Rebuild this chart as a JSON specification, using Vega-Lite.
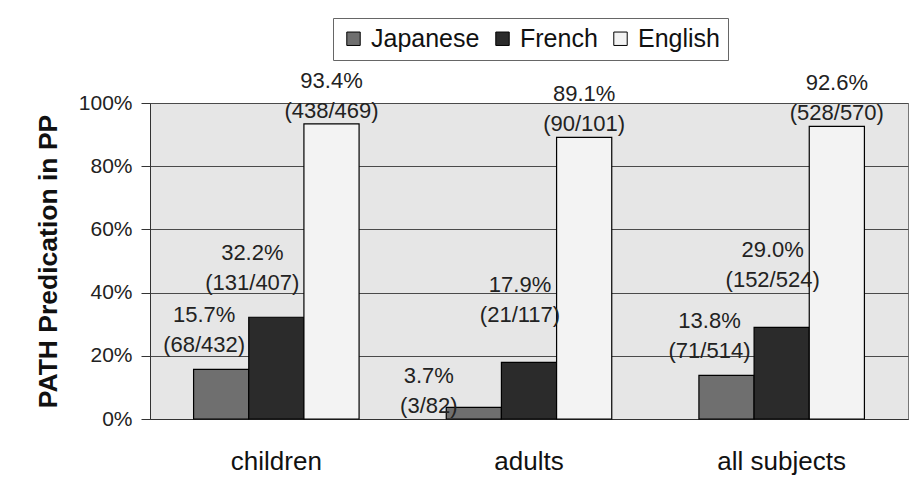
{
  "$schema": "https://vega.github.io/schema/vega-lite/v6.json",
  "width": 758,
  "height": 316,
  "autosize": {"type": "none"},
  "padding": {"left": 150, "top": 103, "right": 6, "bottom": 81},
  "background": "#ffffff",
  "config": {
    "font": "Liberation Sans",
    "view": {"fill": "#e6e6e6", "stroke": "#777777", "strokeWidth": 1}
  },
  "data": {
    "values": [
      {"group": "children", "language": "Japanese", "value": 0.157, "lab": "15.7%\n(68/432)"},
      {"group": "children", "language": "French", "value": 0.322, "lab": "32.2%\n(131/407)"},
      {"group": "children", "language": "English", "value": 0.934, "lab": "93.4%\n(438/469)"},
      {"group": "adults", "language": "Japanese", "value": 0.037, "lab": "3.7%\n(3/82)"},
      {"group": "adults", "language": "French", "value": 0.179, "lab": "17.9%\n(21/117)"},
      {"group": "adults", "language": "English", "value": 0.891, "lab": "89.1%\n(90/101)"},
      {"group": "all subjects", "language": "Japanese", "value": 0.138, "lab": "13.8%\n(71/514)"},
      {"group": "all subjects", "language": "French", "value": 0.29, "lab": "29.0%\n(152/524)"},
      {"group": "all subjects", "language": "English", "value": 0.926, "lab": "92.6%\n(528/570)"}
    ]
  },
  "encoding": {
    "x": {
      "field": "group", "type": "nominal",
      "sort": ["children", "adults", "all subjects"],
      "scale": {"paddingInner": 0, "paddingOuter": 0},
      "axis": {"title": null, "labelAngle": 0, "labelFontSize": 26, "labelPadding": 29, "labelColor": "#111111", "ticks": false, "domainColor": "#333333", "grid": false}
    },
    "xOffset": {
      "field": "language", "type": "nominal",
      "sort": ["Japanese", "French", "English"],
      "scale": {"paddingInner": 0, "paddingOuter": 0.79}
    },
    "y": {
      "field": "value", "type": "quantitative",
      "scale": {"domain": [0, 1], "nice": false},
      "axis": {"format": ".0%", "values": [0, 0.2, 0.4, 0.6, 0.8, 1], "grid": true, "gridColor": "#4a4a4a", "gridWidth": 1, "domainColor": "#333333", "tickColor": "#333333", "tickSize": 9, "labelFontSize": 21, "labelPadding": 9, "labelColor": "#222222", "title": "PATH Predication in PP", "titleFontSize": 26.5, "titleFontWeight": "bold", "titleColor": "#111111", "titlePadding": 16}
    }
  },
  "layer": [
    {
      "mark": {"type": "bar", "stroke": "#000000", "strokeWidth": 1.2},
      "encoding": {
        "color": {
          "field": "language", "type": "nominal",
          "sort": ["Japanese", "French", "English"],
          "scale": {"domain": ["Japanese", "French", "English"], "range": ["#6f6f6f", "#2b2b2b", "#f3f3f3"]},
          "legend": {"title": null, "orient": "none", "legendX": 183, "legendY": -85, "direction": "horizontal", "symbolType": "square", "symbolSize": 180, "symbolStrokeColor": "#000000", "symbolStrokeWidth": 1, "labelFontSize": 25, "labelColor": "#111111", "strokeColor": "#666666", "fillColor": "#ffffff", "padding": 8, "columnPadding": 10, "labelOffset": 5}
        }
      }
    },
    {
      "transform": [{"filter": "datum.language == 'Japanese' && datum.group != 'adults'"}],
      "mark": {"type": "text", "lineBreak": "\n", "baseline": "bottom", "fontSize": 22, "lineHeight": 30, "color": "#222222", "dx": -17, "dy": -42},
      "encoding": {"text": {"field": "lab"}}
    },
    {
      "transform": [{"filter": "datum.language == 'Japanese' && datum.group == 'adults'"}],
      "mark": {"type": "text", "lineBreak": "\n", "baseline": "bottom", "fontSize": 22, "lineHeight": 30, "color": "#222222", "dx": -45, "dy": -19},
      "encoding": {"text": {"field": "lab"}}
    },
    {
      "transform": [{"filter": "datum.language == 'French' && datum.group == 'children'"}],
      "mark": {"type": "text", "lineBreak": "\n", "baseline": "bottom", "fontSize": 22, "lineHeight": 30, "color": "#222222", "dx": -24, "dy": -52},
      "encoding": {"text": {"field": "lab"}}
    },
    {
      "transform": [{"filter": "datum.language == 'French' && datum.group != 'children'"}],
      "mark": {"type": "text", "lineBreak": "\n", "baseline": "bottom", "fontSize": 22, "lineHeight": 30, "color": "#222222", "dx": -9, "dy": -65},
      "encoding": {"text": {"field": "lab"}}
    },
    {
      "transform": [{"filter": "datum.language == 'English'"}],
      "mark": {"type": "text", "lineBreak": "\n", "baseline": "bottom", "fontSize": 22, "lineHeight": 30, "color": "#222222", "dx": 0, "dy": -31},
      "encoding": {"text": {"field": "lab"}}
    }
  ]
}
